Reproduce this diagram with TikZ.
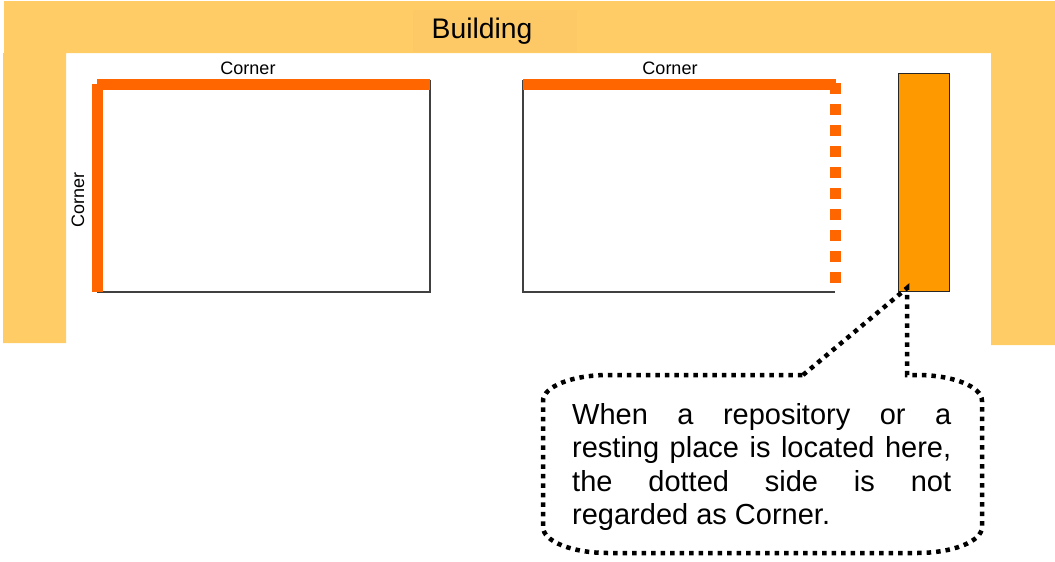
\documentclass[tikz,border=0pt]{standalone}
\usepackage{fontspec}
\setmainfont{Liberation Sans}
\definecolor{bldg}{HTML}{FFCC66}
\definecolor{bldgpatch}{HTML}{FDC966}
\definecolor{cornerc}{HTML}{FF6600}
\definecolor{boxc}{HTML}{FF9900}
\definecolor{edge}{HTML}{404040}
\begin{document}
\begin{tikzpicture}[x=1pt,y=-1pt,
  corner bar/.style={fill=cornerc,draw=none},
  edge line/.style={draw=edge,line width=1.3pt},
  corner label/.style={font=\fontsize{18}{20}\selectfont,inner sep=0pt},
  callout line/.style={draw=black,line width=4.5pt,dash pattern=on 4.5pt off 5pt}]
\useasboundingbox (0,0) rectangle (1055,562);
% building frame
\fill[bldg] (4,1) -- (1055,1) -- (1055,345) -- (991,345) -- (991,53) -- (66,53) -- (66,343) -- (3,343) -- (3,53) -- (4,53) -- cycle;
\fill[bldgpatch] (413,10) rectangle (577,52);
\node[inner sep=0pt,anchor=base,font=\fontsize{28.3}{30}\selectfont] (building) at (482,38) {Building};
% rectangle 1
\coordinate (r1nw) at (97,80);
\coordinate (r1se) at (430,292);
\draw[edge line] (r1nw -| r1se) -- (r1se) -- (r1se -| r1nw);
\fill[corner bar] (97,79) rectangle (430,90);
\fill[corner bar] (92,84) rectangle (103,292);
\node[corner label,anchor=base] (c1) at (248,74) {Corner};
\node[corner label,rotate=90] (c3) at (78,200) {Corner};
% rectangle 2
\coordinate (r2nw) at (523,80);
\coordinate (r2se) at (835,292);
\draw[edge line] (r2nw) -- (r2nw |- r2se) -- (r2se);
\fill[corner bar] (523,79) rectangle (836,90);
\draw[cornerc,line width=11pt,dash pattern=on 11pt off 10pt] (835.5,83) -- (835.5,284);
\node[corner label,anchor=base] (c2) at (670,74) {Corner};
% orange box
\node[draw=black!85,line width=1.3pt,fill=boxc,minimum width=51pt,minimum height=218pt,inner sep=0pt,anchor=north west] (box) at (898,73) {};
\coordinate (tip) at (907,288);
% callout
\draw[callout line] (803,375) -- (tip) -- (tip |- 0,375) -- (917,375)
  .. controls (952.9,375) and (982,386.6) .. (982,401) -- (982,527)
  .. controls (982,541.4) and (952.9,553) .. (917,553) -- (608,553)
  .. controls (572.1,553) and (543,541.4) .. (543,527) -- (543,401)
  .. controls (543,386.6) and (572.1,375) .. (608,375) -- cycle;
\node[anchor=north west,inner sep=0pt,text width=379pt,align=justify,
  font=\fontsize{29}{33.4}\selectfont] (note) at (572,403)
  {When a repository or a\linebreak resting place is located here,\linebreak the dotted side is not\linebreak regarded as Corner.};
\end{tikzpicture}
\end{document}
